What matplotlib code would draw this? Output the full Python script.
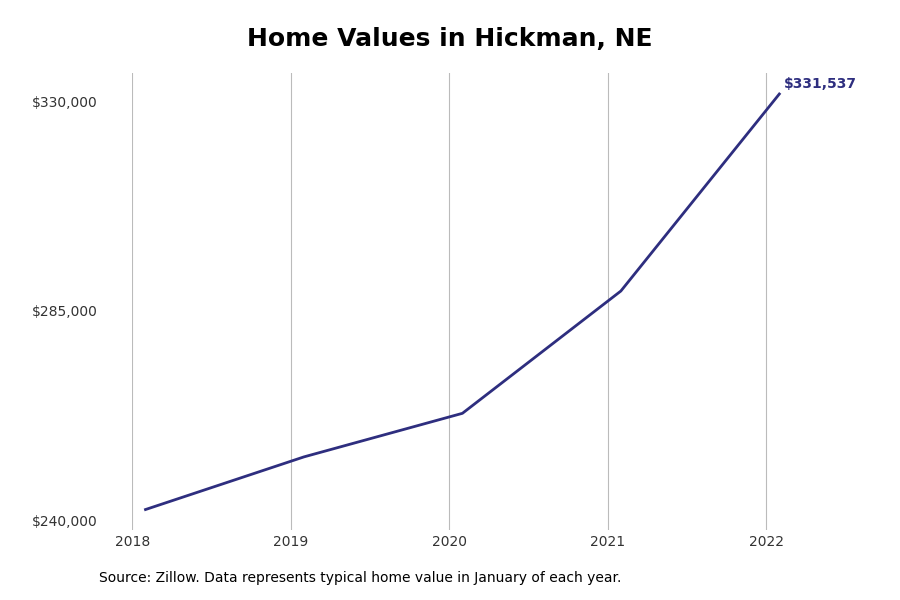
import matplotlib
matplotlib.use('Agg')
import matplotlib.pyplot as plt
from matplotlib.ticker import FuncFormatter

years = [2018, 2019, 2020, 2021, 2022]
values = [242350, 253650, 263000, 289250, 331537]
line_color = '#2e2e7f'

xs = [y + 1 / 12 for y in years]

fig = plt.figure(figsize=(9, 6), dpi=100)
ax = fig.add_axes([0.147, 0.117, 0.831, 0.761])
ax.plot(xs, values, color=line_color, linewidth=2)
ax.annotate('${:,}'.format(values[-1]), (xs[-1], values[-1]), xytext=(3, 2),
            textcoords='offset points', color=line_color, fontsize=10,
            fontweight='bold', va='bottom', ha='left')

ax.set_xlim(2018, 2022.72)
ax.set_ylim(238000, 336000)
ax.set_xticks(years)
ax.set_yticks([240000, 285000, 330000])
ax.yaxis.set_major_formatter(FuncFormatter(lambda v, p: '${:,.0f}'.format(v)))
ax.grid(axis='x', color='#bbbbbb', linewidth=0.8)
ax.set_axisbelow(True)
for s in ax.spines.values():
    s.set_visible(False)
ax.tick_params(length=0, labelsize=10, colors='#333333')
ax.tick_params(axis='y', pad=25)

fig.suptitle('Home Values in Hickman, NE', fontsize=18, fontweight='bold', y=0.955)
fig.text(0.11, 0.03, 'Source: Zillow. Data represents typical home value in January of each year.',
         fontsize=10)
fig.savefig('out.png')
